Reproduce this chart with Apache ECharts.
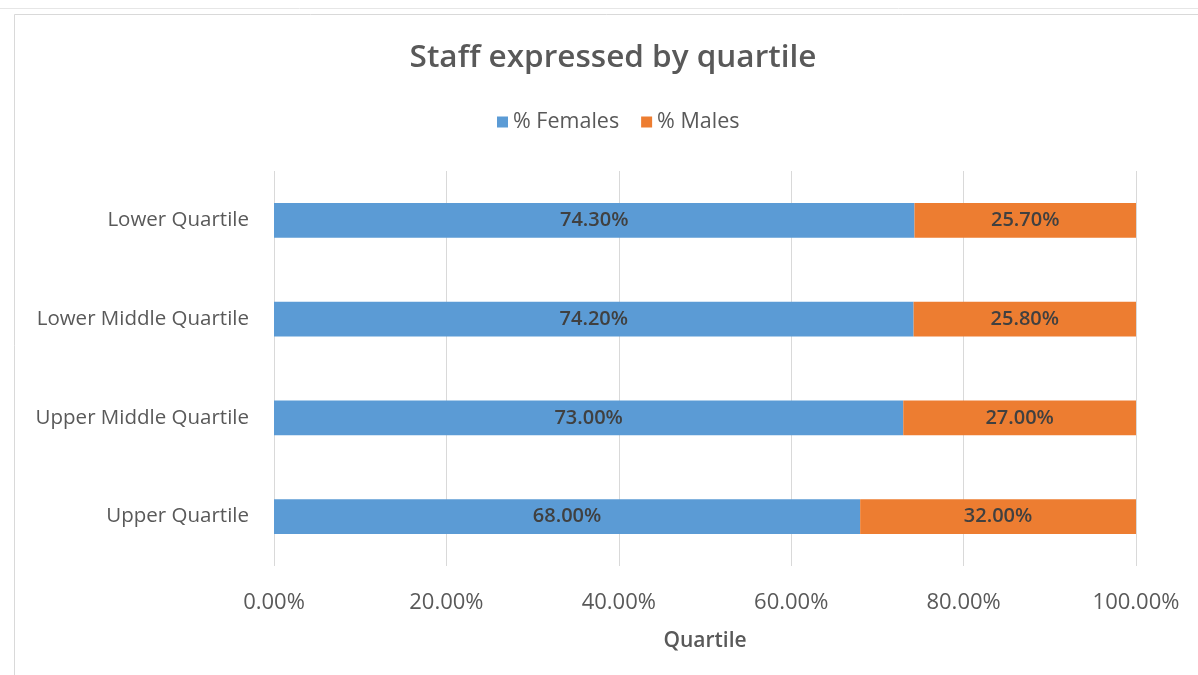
<!DOCTYPE html>
<html>
<head>
<meta charset="utf-8">
<script src="https://cdn.jsdelivr.net/npm/echarts@6/dist/echarts.min.js"></script>
<style>
html,body{margin:0;padding:0;background:#fff;}
#chart{width:1198px;height:675px;}
</style>
</head>
<body>
<div id="chart"></div>
<script>
const categories = ['Upper Quartile', 'Upper Middle Quartile', 'Lower Middle Quartile', 'Lower Quartile'];
const females = [68.0, 73.0, 74.2, 74.3];
const males = [32.0, 27.0, 25.8, 25.7];
const xTicks = [0, 20, 40, 60, 80, 100];

const chart = echarts.init(document.getElementById('chart'));
const font = '"Open Sans", "Noto Sans", sans-serif';
const labelFmt = p => p.value.toFixed(2) + '%';

chart.setOption({
  animation: false,
  backgroundColor: '#ffffff',
  textStyle: { fontFamily: font },
  title: {
    text: 'Staff expressed by quartile',
    left: 608, top: 37, textAlign: 'center',
    textStyle: { fontFamily: font, fontSize: 31.5, fontWeight: 600, color: '#595959' }
  },
  legend: {
    data: ['% Females', '% Males'],
    left: 492, top: 106,
    itemWidth: 11, itemHeight: 11, itemGap: 22,
    icon: 'rect',
    textStyle: { fontFamily: font, fontSize: 21.5, color: '#595959' }
  },
  grid: { left: 274, right: 62, top: 171, bottom: 109, containLabel: false },
  xAxis: {
    type: 'value', min: 0, max: 100, interval: 20,
    name: 'Quartile', nameLocation: 'middle', nameGap: 65,
    nameTextStyle: { fontFamily: font, fontSize: 21, fontWeight: 600, color: '#595959' },
    axisLine: { show: false }, axisTick: { show: false },
    splitLine: { lineStyle: { color: '#d9d9d9', width: 1 } },
    axisLabel: {
      margin: 26, fontFamily: font, fontSize: 22, color: '#595959',
      formatter: v => xTicks.includes(v) ? v.toFixed(2) + '%' : ''
    }
  },
  yAxis: {
    type: 'category', data: categories,
    axisLine: { show: false }, axisTick: { show: false },
    axisLabel: { margin: 25, fontFamily: font, fontSize: 20.5, color: '#595959' }
  },
  series: [
    {
      name: '% Females', type: 'bar', stack: 'total', data: females,
      barWidth: '35%',
      itemStyle: { color: '#5b9bd5' },
      label: { show: true, position: 'inside', formatter: labelFmt,
        fontFamily: font, fontSize: 20, fontWeight: 600, color: '#404040' }
    },
    {
      name: '% Males', type: 'bar', stack: 'total', data: males,
      barWidth: '35%',
      itemStyle: { color: '#ed7d31' },
      label: { show: true, position: 'inside', formatter: labelFmt,
        fontFamily: font, fontSize: 20, fontWeight: 600, color: '#404040' }
    }
  ],
  graphic: [
    { type: 'rect', shape: { x: 14.5, y: 14.5, width: 1200, height: 700 },
      style: { fill: 'none', stroke: '#d9d9d9', lineWidth: 1 }, silent: true },
    { type: 'line', shape: { x1: 0, y1: 8.5, x2: 1198, y2: 8.5 },
      style: { stroke: '#e6e6e6', lineWidth: 1 }, silent: true }
  ]
});
</script>
</body>
</html>
